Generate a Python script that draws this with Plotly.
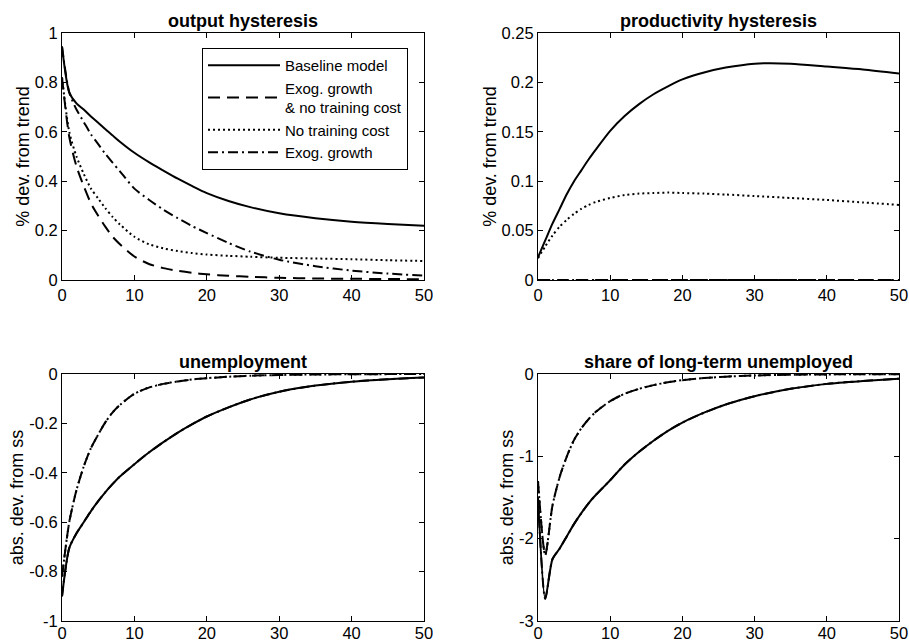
import plotly.graph_objects as go

# ---------------- data ----------------
T = [0, 1, 2, 3, 4, 5, 6, 7, 8, 10, 12, 14, 16, 18, 20, 23, 26, 30, 35, 40, 45, 50]

series_names = ["Baseline model", "Exog. growth<br>& no training cost", "No training cost", "Exog. growth"]

# output hysteresis (% dev. from trend)
out_baseline = [0.945, 0.76, 0.715, 0.69, 0.662, 0.637, 0.61, 0.585, 0.56, 0.515, 0.477, 0.443, 0.41, 0.38, 0.352, 0.32, 0.295, 0.27, 0.25, 0.236, 0.227, 0.22]
out_exog_notrain = [0.82, 0.58, 0.46, 0.38, 0.31, 0.26, 0.215, 0.175, 0.145, 0.095, 0.065, 0.048, 0.037, 0.029, 0.023, 0.017, 0.013, 0.009, 0.006, 0.005, 0.004, 0.003]
out_notrain = [0.82, 0.6, 0.5, 0.43, 0.37, 0.33, 0.29, 0.255, 0.225, 0.175, 0.145, 0.128, 0.117, 0.109, 0.103, 0.098, 0.094, 0.09, 0.087, 0.084, 0.08, 0.077]
out_exog = [0.945, 0.76, 0.69, 0.64, 0.59, 0.55, 0.51, 0.475, 0.44, 0.37, 0.325, 0.285, 0.25, 0.218, 0.19, 0.15, 0.115, 0.082, 0.056, 0.038, 0.026, 0.018]

# productivity hysteresis (% dev. from trend)
prod_baseline = [0.023, 0.04, 0.057, 0.072, 0.087, 0.1, 0.111, 0.122, 0.132, 0.151, 0.166, 0.178, 0.188, 0.196, 0.203, 0.21, 0.215, 0.219, 0.219, 0.216, 0.213, 0.209]
prod_exog_notrain = [0.0] * 22
prod_notrain = [0.022, 0.034, 0.045, 0.054, 0.061, 0.067, 0.072, 0.076, 0.079, 0.083, 0.086, 0.0875, 0.088, 0.0885, 0.088, 0.0875, 0.0865, 0.085, 0.083, 0.081, 0.0785, 0.076]
prod_exog = [0.0] * 22

# unemployment (abs. dev. from ss)
un_baseline = [-0.9, -0.705, -0.645, -0.6, -0.555, -0.515, -0.478, -0.445, -0.415, -0.365, -0.318, -0.276, -0.237, -0.203, -0.172, -0.135, -0.103, -0.072, -0.047, -0.031, -0.021, -0.014]
un_exog_notrain = [-0.82, -0.6, -0.47, -0.375, -0.3, -0.245, -0.195, -0.155, -0.125, -0.08, -0.055, -0.04, -0.03, -0.022, -0.017, -0.011, -0.007, -0.004, -0.002, -0.001, -0.0005, 0.0]
un_notrain = [-0.82, -0.6, -0.47, -0.375, -0.3, -0.245, -0.195, -0.155, -0.125, -0.08, -0.055, -0.04, -0.03, -0.022, -0.017, -0.011, -0.007, -0.004, -0.002, -0.001, -0.0005, 0.0]
un_exog = [-0.9, -0.705, -0.645, -0.6, -0.555, -0.515, -0.478, -0.445, -0.415, -0.365, -0.318, -0.276, -0.237, -0.203, -0.172, -0.135, -0.103, -0.072, -0.047, -0.031, -0.021, -0.014]

# share of long-term unemployed (abs. dev. from ss)
ltu_baseline = [-1.5, -2.73, -2.25, -2.12, -1.97, -1.82, -1.69, -1.57, -1.47, -1.29, -1.1, -0.945, -0.81, -0.69, -0.59, -0.47, -0.37, -0.27, -0.18, -0.12, -0.085, -0.057]
ltu_exog_notrain = [-1.3, -2.2, -1.6, -1.25, -1.0, -0.8, -0.66, -0.55, -0.46, -0.33, -0.24, -0.18, -0.135, -0.1, -0.075, -0.05, -0.032, -0.018, -0.009, -0.005, -0.003, -0.002]
ltu_notrain = [-1.3, -2.2, -1.6, -1.25, -1.0, -0.8, -0.66, -0.55, -0.46, -0.33, -0.24, -0.18, -0.135, -0.1, -0.075, -0.05, -0.032, -0.018, -0.009, -0.005, -0.003, -0.002]
ltu_exog = [-1.5, -2.73, -2.25, -2.12, -1.97, -1.82, -1.69, -1.57, -1.47, -1.29, -1.1, -0.945, -0.81, -0.69, -0.59, -0.47, -0.37, -0.27, -0.18, -0.12, -0.085, -0.057]

panel_titles = ["output hysteresis", "productivity hysteresis", "unemployment", "share of long-term unemployed"]
panel_ylabels = ["% dev. from trend", "% dev. from trend", "abs. dev. from ss", "abs. dev. from ss"]

x_tickvals = [0, 10, 20, 30, 40, 50]
x_ticktext = ["0", "10", "20", "30", "40", "50"]
y_tickvals = [
    [0, 0.2, 0.4, 0.6, 0.8, 1],
    [0, 0.05, 0.1, 0.15, 0.2, 0.25],
    [-1, -0.8, -0.6, -0.4, -0.2, 0],
    [-3, -2, -1, 0],
]
y_ticktext = [
    ["0", "0.2", "0.4", "0.6", "0.8", "1"],
    ["0", "0.05", "0.1", "0.15", "0.2", "0.25"],
    ["-1", "-0.8", "-0.6", "-0.4", "-0.2", "0"],
    ["-3", "-2", "-1", "0"],
]
y_ranges = [[0, 1], [0, 0.25], [-1, 0], [-3, 0]]

panels = [
    [out_baseline, out_exog_notrain, out_notrain, out_exog],
    [prod_baseline, prod_exog_notrain, prod_notrain, prod_exog],
    [un_baseline, un_exog_notrain, un_notrain, un_exog],
    [ltu_baseline, ltu_exog_notrain, ltu_notrain, ltu_exog],
]

# ---------------- styling ----------------
W, H = 909, 643
FONT = "Liberation Sans, Arial, Helvetica, sans-serif"
dashes = ["solid", "12px,7px", "2px,3px", "10px,4px,2px,4px"]
LW = 2

# pixel boxes of plot areas: (left, right, top, bottom)
boxes = [(62, 424, 33, 280), (538, 899, 33, 280), (62, 424, 374, 621), (538, 899, 374, 621)]

fig = go.Figure()
layout = dict(
    width=W, height=H,
    margin=dict(l=0, r=0, t=0, b=0, autoexpand=False),
    paper_bgcolor="white", plot_bgcolor="white",
    font=dict(family=FONT, size=16.5, color="black"),
    showlegend=True,
)

annotations = []
for i in range(4):
    l, r, t, b = boxes[i]
    xa = "xaxis" if i == 0 else f"xaxis{i+1}"
    ya = "yaxis" if i == 0 else f"yaxis{i+1}"
    xref = "x" if i == 0 else f"x{i+1}"
    yref = "y" if i == 0 else f"y{i+1}"
    common = dict(
        showline=True, linecolor="black", linewidth=1, mirror="ticks",
        ticks="inside", ticklen=5, tickcolor="black", tickwidth=1,
        showgrid=False, zeroline=False, automargin=False,
        tickfont=dict(family=FONT, size=16.5, color="black"),
    )
    layout[xa] = dict(
        domain=[l / W, r / W], anchor=yref, range=[0, 50],
        tickvals=x_tickvals, ticktext=x_ticktext,
        ticklabelstandoff=(-3 if i >= 2 else 0), **common,
    )
    layout[ya] = dict(
        domain=[1 - b / H, 1 - t / H], anchor=xref, range=y_ranges[i],
        tickvals=y_tickvals[i], ticktext=y_ticktext[i],
        title=dict(text=panel_ylabels[i], font=dict(family=FONT, size=18, color="black"), standoff=0),
        **common,
    )
    annotations.append(dict(
        text="<b>" + panel_titles[i] + "</b>", xref="paper", yref="paper",
        x=(l + r) / 2 / W, y=1 - t / H, xanchor="center", yanchor="bottom",
        yshift=0, showarrow=False, font=dict(family=FONT, size=18, color="black"),
    ))
    for k in range(4):
        fig.add_trace(go.Scatter(
            x=T, y=panels[i][k], mode="lines", name=series_names[k],
            line=dict(color="black", width=LW, dash=dashes[k], shape="spline", smoothing=0.7),
            xaxis=xref, yaxis=yref, showlegend=(i == 0),
        ))

layout["annotations"] = annotations
layout["legend"] = dict(
    x=408 / W, y=1 - 48 / H, xanchor="right", yanchor="top",
    bgcolor="white", bordercolor="black", borderwidth=1,
    font=dict(family=FONT, size=15, color="black"),
    itemwidth=72, tracegroupgap=0,
)
fig.update_layout(**layout)
fig.write_html(
    "out.html",
    config={"displayModeBar": False},
    post_script="document.body.style.margin='0px';document.body.style.overflow='hidden';",
)
